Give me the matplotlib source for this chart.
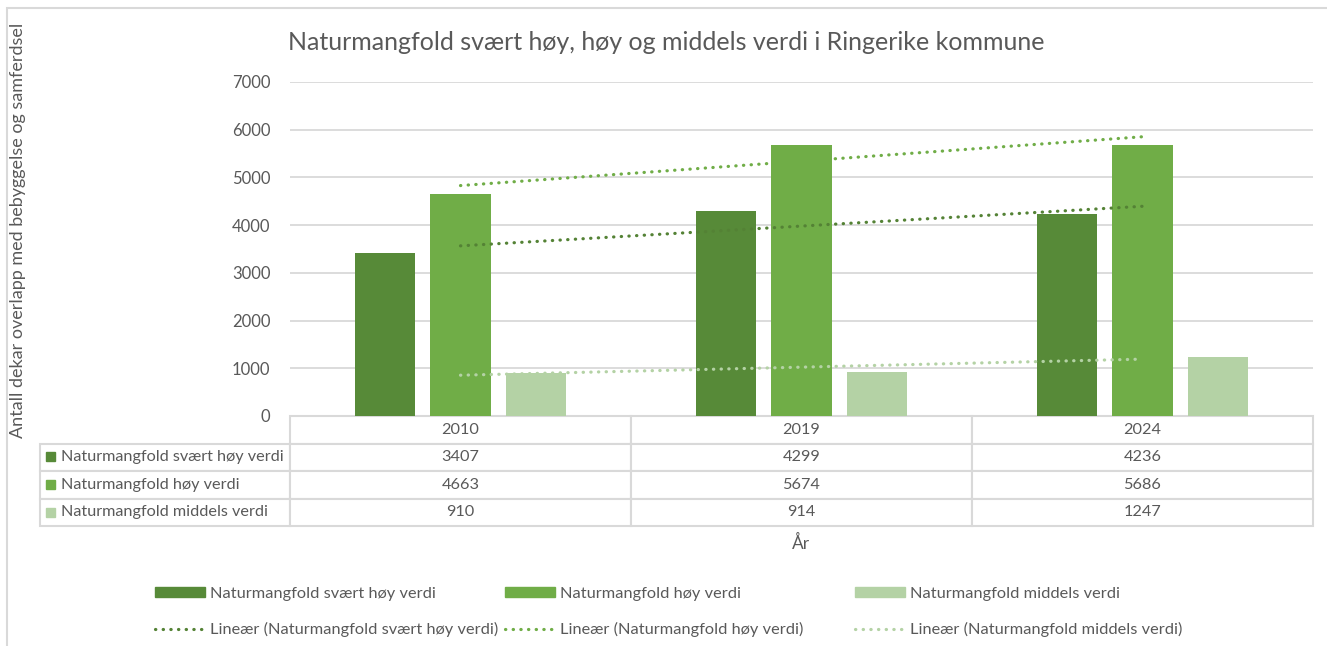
import numpy as np
import matplotlib
matplotlib.use("Agg")
import matplotlib.pyplot as plt
from matplotlib.patches import Patch, Rectangle
from matplotlib.lines import Line2D

years = ["2010", "2019", "2024"]
series = ["Naturmangfold svært høy verdi", "Naturmangfold høy verdi",
          "Naturmangfold middels verdi"]
svaert_hoy = [3407, 4299, 4236]
hoy = [4663, 5674, 5686]
middels = [910, 914, 1247]
colors = ["#578A38", "#70AD47", "#B4D2A5"]
trend_colors = ["#548235", "#70AD47", "#B4D2A5"]

TXT = "#595959"
GRID = "#D9D9D9"
DOT = (0, (0.1, 2.3))
plt.rcParams["font.family"] = ["Lato", "DejaVu Sans"]

W, H = 1327, 646
fig = plt.figure(figsize=(W / 100, H / 100), dpi=100)
ax = fig.add_axes([290 / W, 1 - 416 / H, 1023 / W, 334 / H])

x = np.arange(len(years))
offs = [-0.22, 0.0, 0.22]
for vals, off, c in zip([svaert_hoy, hoy, middels], offs, colors):
    ax.bar(x + off, vals, width=0.176, color=c, zorder=3)

# linear trendlines (Excel "Lineær")
for vals, c in zip([svaert_hoy, hoy, middels], trend_colors):
    k, m = np.polyfit(x, vals, 1)
    ax.plot(x, k * x + m, color=c, lw=2.3, ls=DOT,
            dash_capstyle="round", zorder=4)

ax.set_xlim(-0.5, 2.5)
ax.set_ylim(0, 7000)
ax.set_yticks(range(0, 7001, 1000))
ax.yaxis.grid(True, color=GRID, lw=1.3, zorder=0)
ax.set_xticks([])
ax.tick_params(axis="y", length=0, pad=14, labelsize=12, labelcolor=TXT)
for s in ax.spines.values():
    s.set_visible(False)

# data table
cell_text = [[series[i]] + [str(v) for v in vals]
             for i, vals in enumerate([svaert_hoy, hoy, middels])]
tb = ax.table(cellText=cell_text, colLabels=[""] + years,
              colWidths=[250, 341, 341, 341],
              cellLoc="center",
              bbox=[(40 - 290) / 1023, -110 / 334, 1273 / 1023, 110 / 334])
tb.auto_set_font_size(False)
tb.set_fontsize(11.7)
for (r, cidx), cell in tb.get_celld().items():
    cell.set_edgecolor(GRID)
    cell.set_linewidth(1.5)
    cell.get_text().set_color(TXT)
    if r == 0 and cidx == 0:
        cell.visible_edges = ""
    if cidx == 0 and r > 0:
        cell.get_text().set_horizontalalignment("left")
        cell.PAD = 0.085

row_centers = [456, 484, 512]
for yc, c in zip(row_centers, colors):
    fig.add_artist(Rectangle((46 / W, 1 - (yc + 4.5) / H), 9 / W, 9 / H,
                             transform=fig.transFigure, color=c))

fig.text(666 / W, 1 - 43 / H,
         "Naturmangfold svært høy, høy og middels verdi i Ringerike kommune",
         ha="center", va="center", fontsize=18, color=TXT)
fig.text(18 / W, 1 - 230 / H,
         "Antall dekar overlapp med bebyggelse og samferdsel",
         rotation=90, ha="center", va="center", fontsize=13, color=TXT)
fig.text(801 / W, 1 - 543 / H, "År", ha="center", va="center",
         fontsize=12.5, color=TXT)

# legend: three columns, bar on top, trendline below
for i, (name, c, tc) in enumerate(zip(series, colors, trend_colors)):
    handles = [Patch(facecolor=c, edgecolor=c, label=name),
               Line2D([0], [0], color=tc, lw=2.3, ls=DOT,
                      dash_capstyle="round",
                      label="Lineær (%s)" % name)]
    fig.legend(handles=handles, loc="upper left",
               bbox_to_anchor=((155 + 350 * i) / W, 1 - 587 / H),
               frameon=False, fontsize=11.8, labelcolor=TXT,
               handlelength=3.05, handleheight=0.55, handletextpad=0.3,
               labelspacing=1.3, borderpad=0, borderaxespad=0)

fig.add_artist(Rectangle((7 / W, -0.02), 1.05, 1 - 8 / H + 0.02,
                         transform=fig.transFigure, fill=False,
                         edgecolor=GRID, lw=1.5))

fig.savefig("out.png", dpi=100, facecolor="white")
